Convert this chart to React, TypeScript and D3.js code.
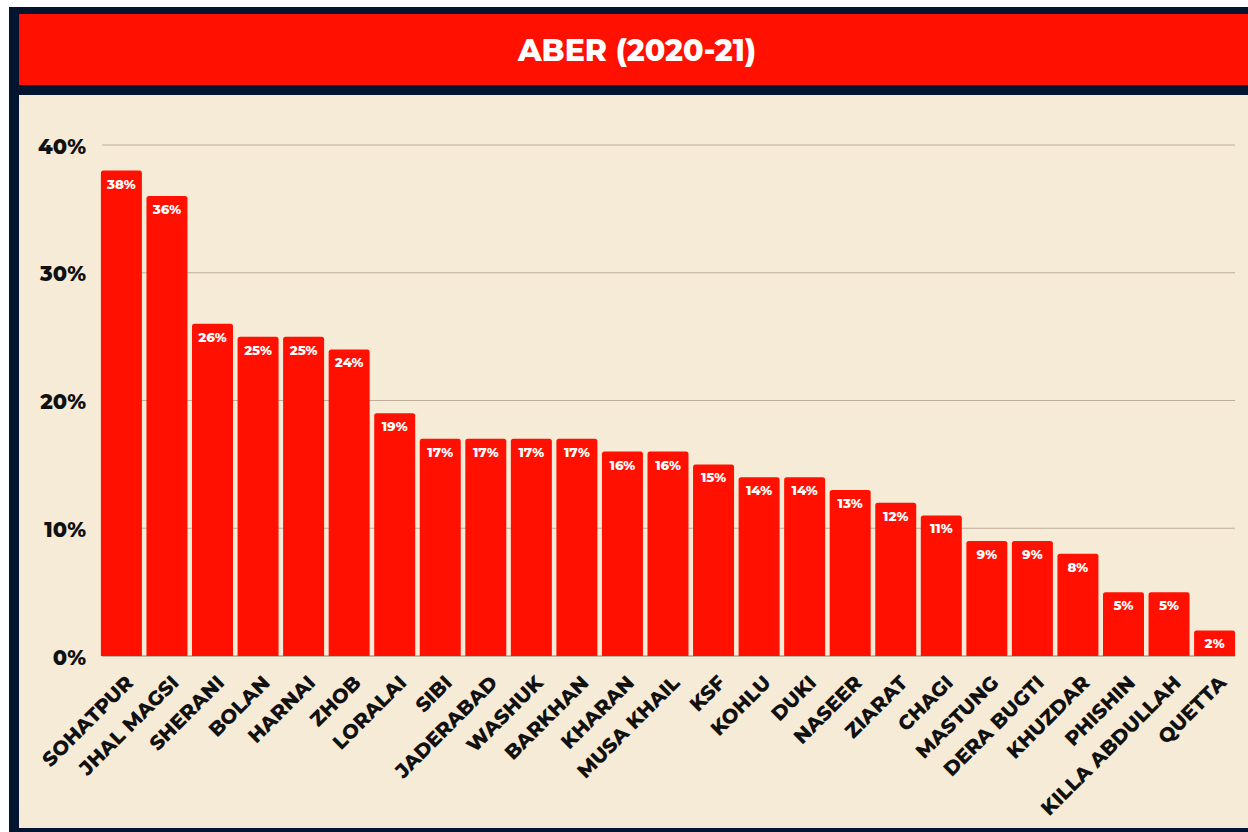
import React from "react";
import * as d3 from "d3";

const categories = ["SOHATPUR","JHAL MAGSI","SHERANI","BOLAN","HARNAI","ZHOB","LORALAI","SIBI","JADERABAD","WASHUK","BARKHAN","KHARAN","MUSA KHAIL","KSF","KOHLU","DUKI","NASEER","ZIARAT","CHAGI","MASTUNG","DERA BUGTI","KHUZDAR","PHISHIN","KILLA ABDULLAH","QUETTA"];
const values = [38,36,26,25,25,24,19,17,17,17,17,16,16,15,14,14,13,12,11,9,9,8,5,5,2];
const yTicks = [0,10,20,30,40];
const title = "ABER (2020-21)";

const W = 1248, H = 832;
const FONT = "Montserrat, 'Open Sans', sans-serif";

export default function App() {
  const x = d3.scaleBand<string>().domain(categories).range([100, 1236]).paddingInner(0.1).paddingOuter(0.02);
  const y = d3.scaleLinear().domain([0, 40]).range([656, 145]);
  const r = 2.5;
  const barPath = (x0: number, y0: number, w: number, h: number) =>
    `M${x0},${y0 + h}V${y0 + r}Q${x0},${y0} ${x0 + r},${y0}H${x0 + w - r}Q${x0 + w},${y0} ${x0 + w},${y0 + r}V${y0 + h}Z`;
  return (
    <svg width={W} height={H} style={{ position: "absolute", left: 0, top: 0, display: "block" }}>
      <rect x={0} y={0} width={W} height={H} fill="#ffffff" />
      <rect x={9} y={7} width={W - 9} height={H - 7} fill="#031430" />
      <rect x={19} y={14} width={W - 19} height={71} fill="#ff1000" />
      <text x={637} y={50} textAnchor="middle" dominantBaseline="central" fill="#ffffff"
        fontFamily={FONT} fontWeight={800} fontSize={30}>{title}</text>
      <rect x={19} y={95} width={W - 19} height={733} fill="#f6ebd7" />
      {yTicks.map((t) => (
        <g key={t}>
          <line x1={102} x2={1235} y1={y(t)} y2={y(t)} stroke={t === 0 ? "#8a8070" : "#bcae9a"} strokeWidth={1} />
          <text x={86} y={y(t) + 1} textAnchor="end" dominantBaseline="central" fill="#111"
            fontFamily={FONT} fontWeight={800} fontSize={21}>{t}%</text>
        </g>
      ))}
      {categories.map((c, i) => {
        const x0 = x(c)!;
        const w = x.bandwidth();
        const y0 = y(values[i]);
        const h = y(0) - y0;
        const cx = x0 + w / 2;
        return (
          <g key={c}>
            <path d={barPath(x0, y0, w, h)} fill="#ff1000" />
            <text x={cx} y={y0 + 13} textAnchor="middle" dominantBaseline="central" fill="#ffffff"
              fontFamily={FONT} fontWeight={800} fontSize={13.3}>{values[i]}%</text>
            <text transform={`translate(${cx + 13},${684}) rotate(-45)`} textAnchor="end" fill="#111"
              fontFamily={FONT} fontWeight={800} fontSize={20}>{c}</text>
          </g>
        );
      })}
    </svg>
  );
}
